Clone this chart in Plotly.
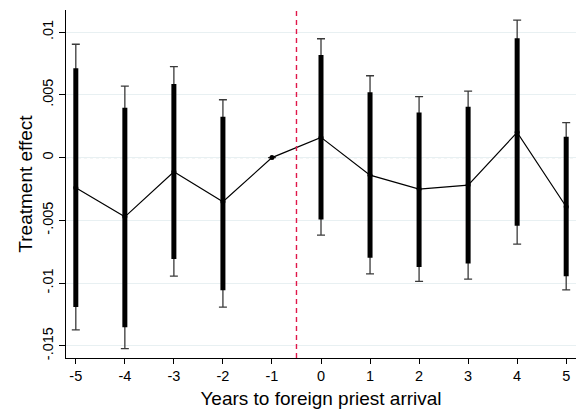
import plotly.graph_objects as go

years = [-5, -4, -3, -2, -1, 0, 1, 2, 3, 4, 5]
effect = [-0.00241, -0.00472, -0.00113, -0.00352, 0.0, 0.00161, -0.0014, -0.00251, -0.00219, 0.00201, -0.00392]
ci95_hi = [0.00903, 0.0057, 0.00724, 0.00461, 0.0, 0.00947, 0.00652, 0.00485, 0.0053, 0.01096, 0.00278]
ci95_lo = [-0.01373, -0.01522, -0.00945, -0.01192, 0.0, -0.00618, -0.00927, -0.00987, -0.00969, -0.0069, -0.01054]
ci90_hi = [0.00711, 0.00397, 0.00586, 0.00325, 0.0, 0.00817, 0.0052, 0.0036, 0.00405, 0.0095, 0.00166]
ci90_lo = [-0.0119, -0.01352, -0.00809, -0.01057, 0.0, -0.00493, -0.00799, -0.00871, -0.00844, -0.00544, -0.00945]
event_x = -0.5
ytick_vals = [-0.015, -0.01, -0.005, 0, 0.005, 0.01]
ytick_text = ["-.015", "-.01", "-.005", "0", ".005", ".01"]

FONT = "Liberation Sans, Arial, sans-serif"

fig = go.Figure()

# thin 95% CI whiskers with caps
fig.add_trace(go.Scatter(
    x=years, y=effect, mode="markers", marker=dict(size=0.1, color="rgba(0,0,0,0)"),
    error_y=dict(type="data", symmetric=False,
                 array=[h - e for h, e in zip(ci95_hi, effect)],
                 arrayminus=[e - l for e, l in zip(effect, ci95_lo)],
                 thickness=1.3, width=4, color="#3a3a3a"),
    showlegend=False, hoverinfo="skip"))

# thick inner CI bars
fig.add_trace(go.Scatter(
    x=years, y=effect, mode="markers", marker=dict(size=0.1, color="rgba(0,0,0,0)"),
    error_y=dict(type="data", symmetric=False,
                 array=[h - e for h, e in zip(ci90_hi, effect)],
                 arrayminus=[e - l for e, l in zip(effect, ci90_lo)],
                 thickness=5, width=0, color="#000000"),
    showlegend=False, hoverinfo="skip"))

# point estimates connected
fig.add_trace(go.Scatter(
    x=years, y=effect, mode="lines+markers",
    line=dict(color="#000000", width=1.2),
    marker=dict(size=5, color="#000000"),
    showlegend=False))

# zero reference line (dotted)
fig.add_shape(type="line", xref="paper", x0=0, x1=1, yref="y", y0=0, y1=0,
              line=dict(color="#6f8f8a", width=1, dash="dot"), layer="below")
# event line
fig.add_shape(type="line", xref="x", x0=event_x, x1=event_x, yref="paper", y0=0, y1=1,
              line=dict(color="#e0174a", width=1.4, dash="5px,4px"))

fig.update_layout(
    width=582, height=415,
    margin=dict(l=66, r=6, t=10, b=57),
    paper_bgcolor="white", plot_bgcolor="white",
    font=dict(family=FONT, color="#000000"),
    xaxis=dict(
        range=[-5.2, 5.2], tickvals=years, ticktext=[str(v) for v in years],
        showgrid=False, zeroline=False, showline=True, linecolor="#000000", linewidth=1,
        ticks="outside", ticklen=5, tickcolor="#000000", tickwidth=1,
        tickfont=dict(size=14.5, family=FONT),
        title=dict(text="Years to foreign priest arrival", font=dict(size=19, family=FONT), standoff=8),
    ),
    yaxis=dict(
        range=[-0.01597, 0.01176], tickvals=ytick_vals, ticktext=ytick_text,
        tickangle=-90,
        showgrid=True, gridcolor="#e8f0f2", gridwidth=1, zeroline=False,
        showline=True, linecolor="#000000", linewidth=1,
        ticks="outside", ticklen=6, tickcolor="#000000", tickwidth=1,
        tickfont=dict(size=14.5, family=FONT),
        title=dict(text="Treatment effect", font=dict(size=19, family=FONT), standoff=2),
    ),
)

fig.write_html("out.html", config={"displayModeBar": False},
               post_script="document.body.style.margin='0';document.body.style.overflow='hidden';")
